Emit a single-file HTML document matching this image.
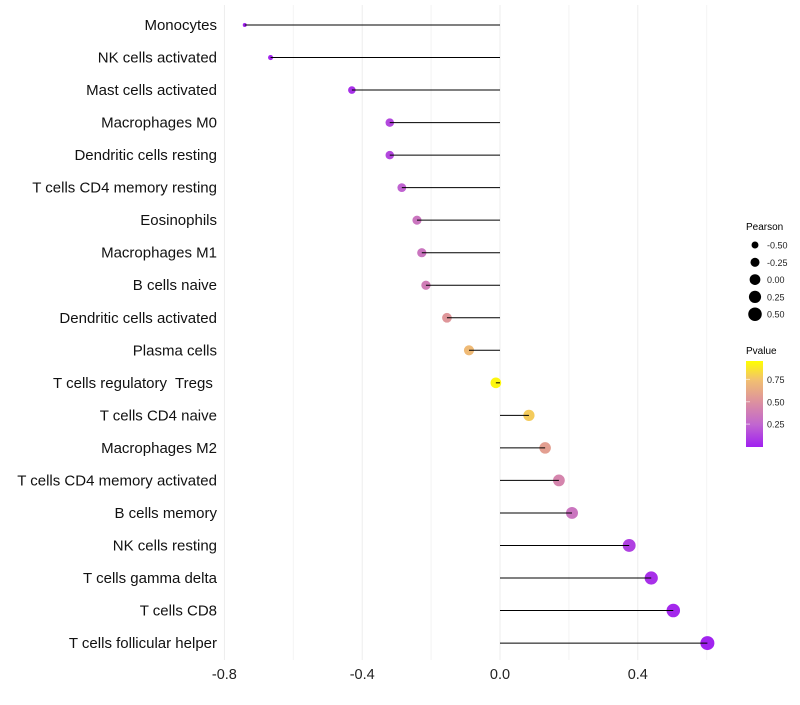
<!DOCTYPE html>
<html><head><meta charset="utf-8"><style>
body{margin:0;background:#fff;}
svg text{font-family:"Liberation Sans",Arial,sans-serif;}
</style></head><body>
<svg id="chart" width="800" height="700" viewBox="0 0 800 700">
<defs><linearGradient id="pg" x1="0" y1="1" x2="0" y2="0">
<stop offset="0" stop-color="#a020f0"/><stop offset="0.26" stop-color="#c166d0"/><stop offset="0.52" stop-color="#dc90a0"/><stop offset="0.78" stop-color="#f2c070"/><stop offset="1" stop-color="#ffff00"/>
</linearGradient></defs>
<g id="grid"></g>
<g id="marks"></g>
<g id="ylabels"></g>
<g id="xlabels"></g>
<g id="sizeleg">
<text x="746" y="230" font-size="10">Pearson</text>
</g>
<g id="colleg">
<text x="746" y="354" font-size="10">Pvalue</text>
<rect x="746" y="361" width="17" height="86" fill="url(#pg)"/>
</g>
</svg>
<script>
const categories=["Monocytes","NK cells activated","Mast cells activated","Macrophages M0","Dendritic cells resting","T cells CD4 memory resting","Eosinophils","Macrophages M1","B cells naive","Dendritic cells activated","Plasma cells","T cells regulatory\u00a0 Tregs\u00a0","T cells CD4 naive","Macrophages M2","T cells CD4 memory activated","B cells memory","NK cells resting","T cells gamma delta","T cells CD8","T cells follicular helper"];
const pearson=[-0.741,-0.666,-0.430,-0.320,-0.320,-0.285,-0.241,-0.227,-0.215,-0.154,-0.090,-0.012,0.084,0.131,0.171,0.209,0.375,0.439,0.503,0.602];
const pvalue=[0.01,0.02,0.06,0.15,0.15,0.25,0.35,0.35,0.4,0.55,0.75,0.97,0.82,0.6,0.45,0.35,0.12,0.06,0.03,0.01];
const xTicks=[-0.8,-0.4,0.0,0.4];
const xMinor=[-0.6,-0.2,0.2,0.6];
const sizeLegend=[-0.5,-0.25,0,0.25,0.5];
const colorTicks=[0.25,0.5,0.75];
const NS="http://www.w3.org/2000/svg";
const X=v=>500+v*344.5;
const Y=i=>25+i*32.53;
const R=v=>Math.sqrt(Math.max(1,28.8+33.6*v));
const stops=[[0,[160,32,240]],[0.26,[193,102,208]],[0.52,[220,144,160]],[0.78,[242,192,112]],[1,[255,255,0]]];
function col(p){for(let k=1;k<stops.length;k++){if(p<=stops[k][0]){const a=stops[k-1],b=stops[k],t=(p-a[0])/(b[0]-a[0]);return 'rgb('+a[1].map((c,j)=>Math.round(c+(b[1][j]-c)*t)).join(',')+')';}}return 'rgb(255,255,0)';}
function mk(tag,attrs,parent){const e=document.createElementNS(NS,tag);for(const k in attrs)e.setAttribute(k,attrs[k]);parent.appendChild(e);return e;}
const grid=document.getElementById('grid'),marks=document.getElementById('marks'),yl=document.getElementById('ylabels'),xl=document.getElementById('xlabels');
xMinor.forEach(v=>{const l=mk('line',{x1:X(v),x2:X(v),y1:5,y2:660,stroke:'#f4f4f4','stroke-width':1},grid);

});
xTicks.forEach(v=>{const l=mk('line',{x1:X(v),x2:X(v),y1:5,y2:660,stroke:'#ededed','stroke-width':1},grid);


const t=mk('text',{x:X(v),y:679,'font-size':14.5,'text-anchor':'middle',fill:'#222'},xl);t.textContent=v.toFixed(1);

});
categories.forEach((c,i)=>{const v=pearson[i];
const d=mk('circle',{cx:X(v),cy:Y(i),r:R(v),fill:col(pvalue[i])},marks);


const s=mk('line',{x1:X(0),x2:X(v),y1:Y(i),y2:Y(i),stroke:'#000','stroke-width':1},marks);


const t=mk('text',{x:217,y:Y(i)+5,'font-size':15,'text-anchor':'end',fill:'#111'},yl);t.textContent=c;

});
const sl=document.getElementById('sizeleg');
sizeLegend.forEach((v,k)=>{const y=245+k*17.3;
const c=mk('circle',{cx:755,cy:y,r:R(v),fill:'#000'},sl);


const t=mk('text',{x:767,y:y+3.5,'font-size':9,fill:'#222'},sl);t.textContent=v.toFixed(2);

});
const cl=document.getElementById('colleg');
colorTicks.forEach(v=>{const y=446.5-v*89.5;
const t=mk('text',{x:767,y:y+3.5,'font-size':9,fill:'#222'},cl);t.textContent=v.toFixed(2);


const l=mk('line',{x1:746,x2:750,y1:y,y2:y,stroke:'#fff','stroke-width':1,opacity:0.6},cl);

});
</script>
</body></html>
